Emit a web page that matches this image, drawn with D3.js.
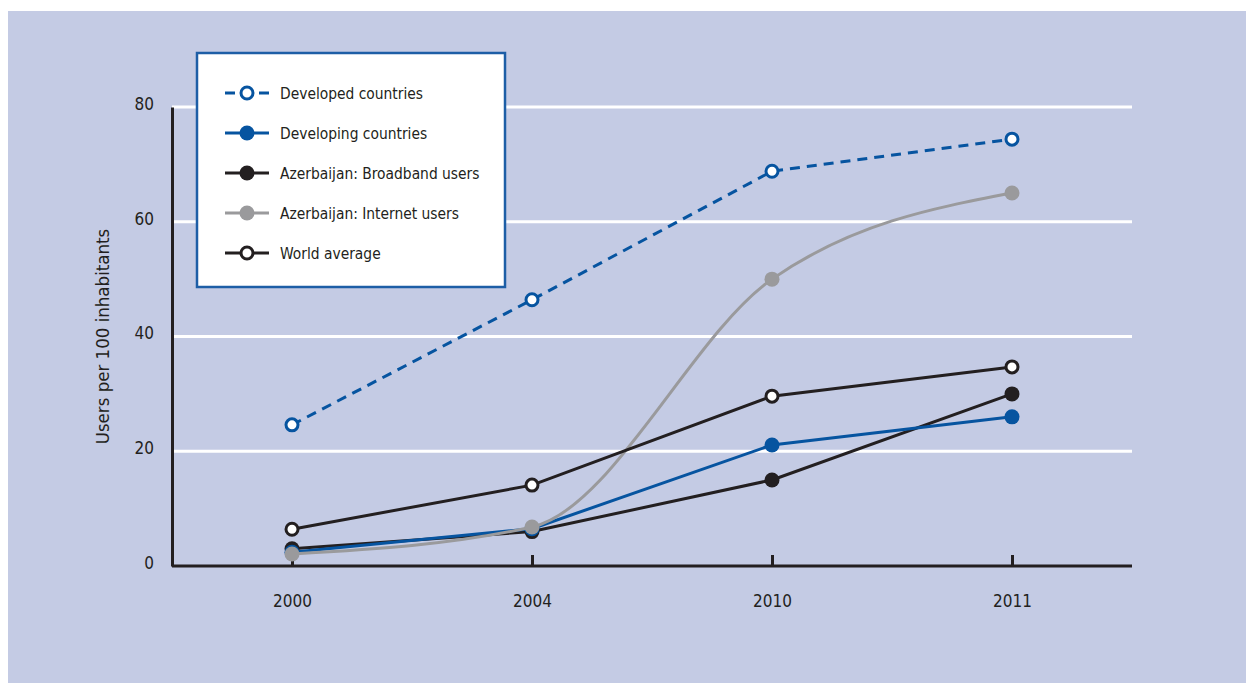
<!DOCTYPE html>
<html>
<head>
<meta charset="utf-8">
<script src="https://cdn.jsdelivr.net/npm/d3@7/dist/d3.min.js"></script>
<style>
  body { margin: 0; background: #fff; }
  svg text { font-family: "Liberation Sans Narrow", "Arial Narrow", "DejaVu Sans Condensed", sans-serif; fill: #231f20; }
</style>
</head>
<body>
<div id="chart"></div>
<script>
// data
const years = ["2000", "2004", "2010", "2011"];
const developed = [24.6, 46.4, 68.8, 74.4];
const developing = [2.4, 6.5, 21.1, 26.0];
const broadband = [3.0, 6.0, 15.0, 30.0];
const internet = [2.1, 6.8, 50.0, 65.0];
const world = [6.4, 14.1, 29.6, 34.7];
const yTicks = [0, 20, 40, 60, 80];

const blue = "#0654a0";
const dark = "#231f20";
const grey = "#9a9a9c";

const series = [
  { name: "Developed countries", values: developed, color: blue, dash: "10,7", open: true },
  { name: "Developing countries", values: developing, color: blue, dash: null, open: false },
  { name: "Azerbaijan: Broadband users", values: broadband, color: dark, dash: null, open: false },
  { name: "Azerbaijan: Internet users", values: internet, color: grey, dash: null, open: false, smooth: true },
  { name: "World average", values: world, color: dark, dash: null, open: true }
];
// stacking order of the drawn lines
const drawOrder = [2, 1, 3, 4, 0];

const width = 1246, height = 683;
const mLeft = 172, mRight = 1132, mTop = 107, mBottom = 566;

const svg = d3.select("#chart").append("svg")
  .attr("width", width)
  .attr("height", height);

svg.append("rect")
  .attr("x", 8).attr("y", 11)
  .attr("width", width - 8).attr("height", height - 11)
  .attr("fill", "#c4cbe4");

const x = d3.scalePoint().domain(years).range([mLeft, mRight]).padding(0.5);
const y = d3.scaleLinear().domain([0, 80]).range([mBottom, mTop]);

// grid
svg.append("g")
  .selectAll("line")
  .data(yTicks.filter((d) => d > 0))
  .join("line")
  .attr("x1", mLeft).attr("x2", mRight)
  .attr("y1", (d) => y(d)).attr("y2", (d) => y(d))
  .attr("stroke", "#fff")
  .attr("stroke-width", 3);

// y axis
const yAxis = svg.append("g")
  .attr("transform", `translate(${mLeft},0)`)
  .call(d3.axisLeft(y).tickValues(yTicks).tickSize(0).tickPadding(18));
yAxis.select(".domain").attr("stroke", dark).attr("stroke-width", 3);
yAxis.selectAll("text")
  .attr("dy", "0.14em")
  .style("font-size", "17px")
  .style("font-family", null);

svg.append("text")
  .attr("transform", `translate(109,${(mTop + mBottom) / 2}) rotate(-90)`)
  .attr("text-anchor", "middle")
  .style("font-size", "18.5px")
  .text("Users per 100 inhabitants");

// x axis
const xAxis = svg.append("g")
  .attr("transform", `translate(0,${mBottom})`)
  .call(d3.axisBottom(x).tickSizeInner(-11).tickSizeOuter(0).tickPadding(29));
xAxis.select(".domain")
  .attr("d", `M${mLeft},0H${mRight}`)
  .attr("stroke", dark).attr("stroke-width", 3);
xAxis.selectAll(".tick line").attr("stroke", dark).attr("stroke-width", 3);
xAxis.selectAll("text")
  .style("font-size", "17px")
  .style("font-family", null);

const straight = d3.line().x((d, i) => x(years[i])).y((d) => y(d));
const smooth = d3.line().x((d, i) => x(years[i])).y((d) => y(d)).curve(d3.curveMonotoneX);

const marks = svg.append("g");
drawOrder.forEach((k) => {
  const s = series[k];
  const g = marks.append("g");
  g.append("path")
    .attr("d", (s.smooth ? smooth : straight)(s.values))
    .attr("fill", "none")
    .attr("stroke", s.color)
    .attr("stroke-width", 3)
    .attr("stroke-dasharray", s.dash);
  g.selectAll("circle")
    .data(s.values)
    .join("circle")
    .attr("cx", (d, i) => x(years[i]))
    .attr("cy", (d) => y(d))
    .attr("r", s.open ? 6 : 7.5)
    .attr("fill", s.open ? "#fff" : s.color)
    .attr("stroke", s.open ? s.color : "none")
    .attr("stroke-width", 3);
});

// legend
const legend = svg.append("g").attr("transform", "translate(197,53)");
legend.append("rect")
  .attr("width", 308).attr("height", 234)
  .attr("fill", "#fff")
  .attr("stroke", "#1d5ea6")
  .attr("stroke-width", 2.5);

const row = legend.selectAll(".row")
  .data(series)
  .join("g")
  .attr("class", "row")
  .attr("transform", (d, i) => `translate(0,${40 + i * 40})`);
row.append("line")
  .attr("x1", 28).attr("x2", 72)
  .attr("stroke", (d) => d.color)
  .attr("stroke-width", 3)
  .attr("stroke-dasharray", (d) => d.dash ? "10,24,10" : null);
row.append("circle")
  .attr("cx", 50)
  .attr("r", (d) => d.open ? 6 : 7.5)
  .attr("fill", (d) => d.open ? "#fff" : d.color)
  .attr("stroke", (d) => d.open ? d.color : "none")
  .attr("stroke-width", 3);
row.append("text")
  .attr("x", 83)
  .attr("dy", "0.36em")
  .style("font-size", "15.4px")
  .text((d) => d.name);
</script>
</body>
</html>
